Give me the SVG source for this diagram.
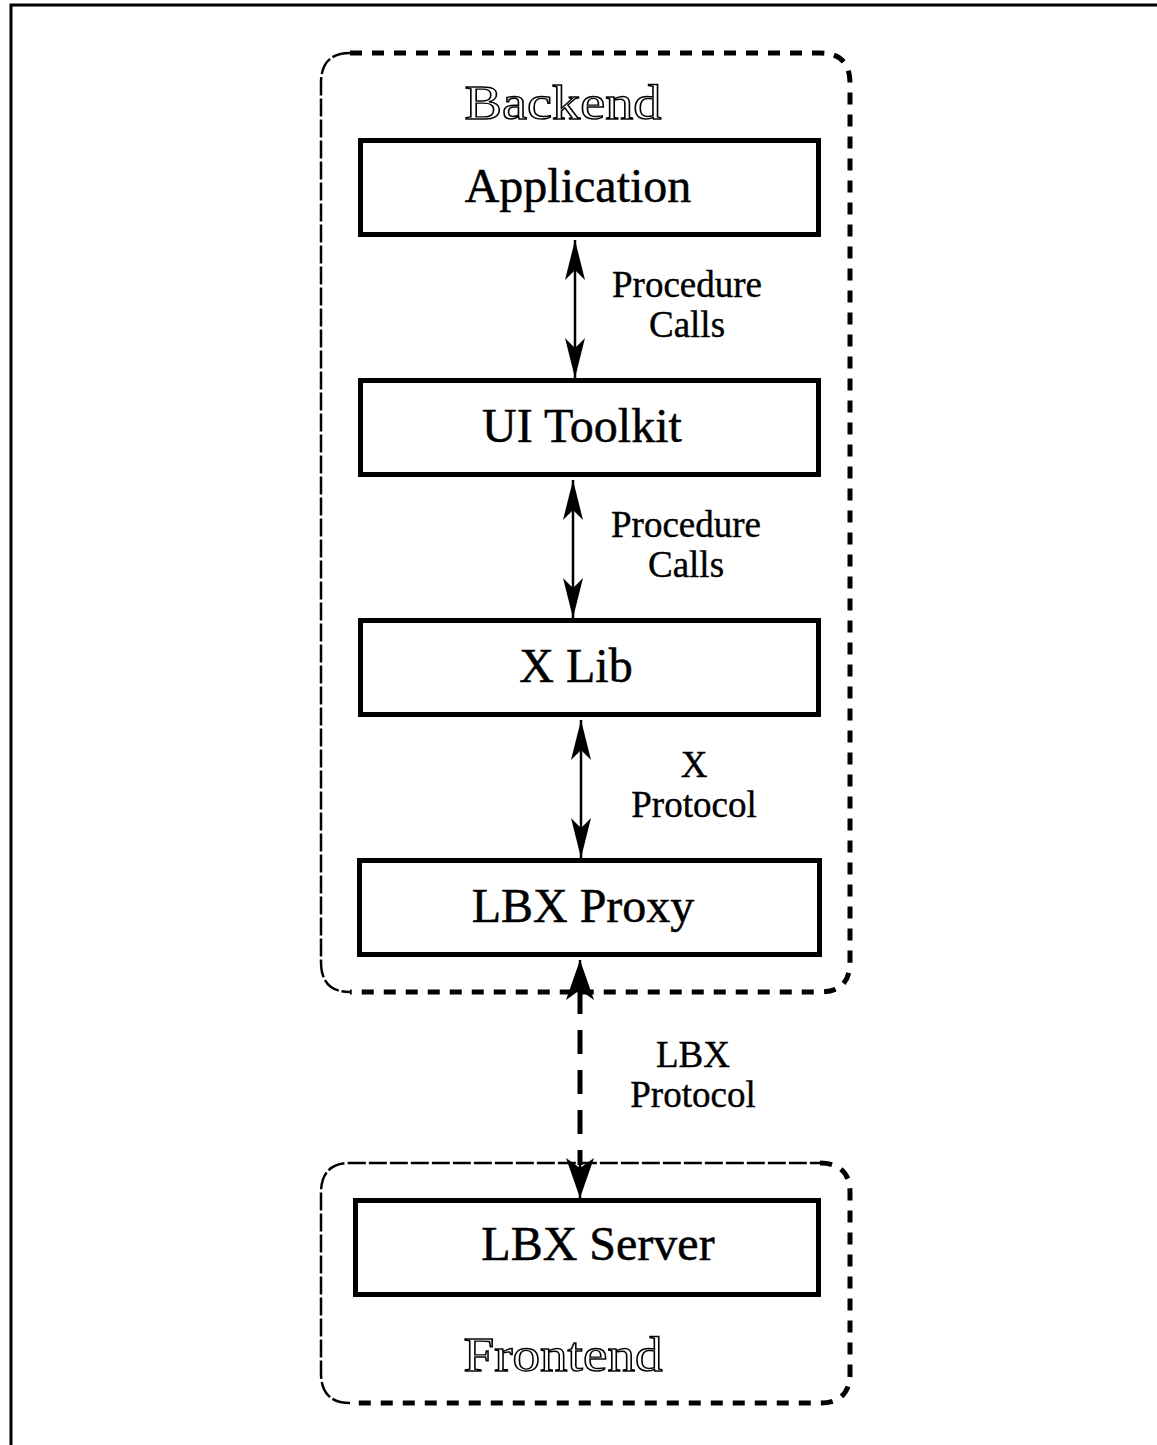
<svg xmlns="http://www.w3.org/2000/svg" width="1157" height="1445" viewBox="0 0 1157 1445">
  <style>
    .box { fill: #fff; stroke: #000; stroke-width: 5; }
    .boxtext { font-family: "Liberation Serif", "Times New Roman", serif; font-size: 48px; fill: #000; stroke: #000; stroke-width: 0.5; text-anchor: middle; }
    .label { font-family: "Liberation Serif", "Times New Roman", serif; font-size: 37px; fill: #000; stroke: #000; stroke-width: 0.4; text-anchor: middle; }
    .outline { font-family: "Liberation Serif", "Times New Roman", serif; font-size: 48px; fill: #fff; stroke: #000; stroke-width: 1.4; text-anchor: middle; }
    .thick-dash { fill: none; stroke: #000; stroke-width: 5; stroke-dasharray: 12 10; }
    .thin-dash { fill: none; stroke: #000; stroke-width: 2.5; stroke-dasharray: 18 3; }
    .link { fill: none; stroke: #000; stroke-width: 2.5; }
    .link-dashed { fill: none; stroke: #000; stroke-width: 5; stroke-dasharray: 24 16; }
  </style>
  <defs>
    <marker id="head" viewBox="0 0 40 20" refX="40" refY="10" markerWidth="40" markerHeight="20" markerUnits="userSpaceOnUse" orient="auto-start-reverse">
      <path d="M40,10 L0,0 L10,10 L0,20 Z" fill="#000"/>
    </marker>
    <marker id="head-big" viewBox="0 0 40 28" refX="40" refY="14" markerWidth="40" markerHeight="28" markerUnits="userSpaceOnUse" orient="auto-start-reverse">
      <path d="M40,14 L0,0 L10,14 L0,28 Z" fill="#000"/>
    </marker>
  </defs>

  <!-- page frame -->
  <path d="M11,1445 V5 H1157" fill="none" stroke="#000" stroke-width="3"/>

  <!-- backend container -->
  <g id="backend">
    <path class="thick-dash" d="M350,53 H820 Q850,53 850,83 V962 Q850,992 820,992 H350"/>
    <path class="thin-dash" d="M350,53 Q321,53 321,83 V962 Q321,992 350,992"/>
    <text class="outline" x="563" y="119" textLength="197" lengthAdjust="spacingAndGlyphs">Backend</text>
  </g>

  <!-- frontend container -->
  <g id="frontend">
    <path class="thin-dash" d="M350,1403 Q321,1403 321,1373 V1193 Q321,1163 350,1163 H820"/>
    <path class="thick-dash" d="M820,1163 Q850,1163 850,1193 V1373 Q850,1403 820,1403 H350"/>
    <text class="outline" x="563" y="1371" textLength="199" lengthAdjust="spacingAndGlyphs">Frontend</text>
  </g>

  <!-- connectors -->
  <g id="connectors">
    <line class="link" x1="575" y1="240" x2="575" y2="378" marker-start="url(#head)" marker-end="url(#head)"/>
    <line class="link" x1="573" y1="480" x2="573" y2="618" marker-start="url(#head)" marker-end="url(#head)"/>
    <line class="link" x1="581" y1="720" x2="581" y2="858" marker-start="url(#head)" marker-end="url(#head)"/>
    <line class="link-dashed" x1="580" y1="990" x2="580" y2="1165"/>
    <line class="link" x1="580" y1="960" x2="580" y2="998" stroke-width="5" marker-start="url(#head-big)"/>
    <line class="link" x1="580" y1="1160" x2="580" y2="1198" stroke-width="5" marker-end="url(#head-big)"/>
    <text class="label" x="687" y="297">Procedure</text>
    <text class="label" x="687" y="337">Calls</text>
    <text class="label" x="686" y="537">Procedure</text>
    <text class="label" x="686" y="577">Calls</text>
    <text class="label" x="694" y="777">X</text>
    <text class="label" x="694" y="817">Protocol</text>
    <text class="label" x="693" y="1067">LBX</text>
    <text class="label" x="693" y="1107">Protocol</text>
  </g>

  <g id="application">
    <rect class="box" x="360.5" y="140.5" width="458" height="94"/>
    <text class="boxtext" x="578" y="202">Application</text>
  </g>
  <g id="ui-toolkit">
    <rect class="box" x="360.5" y="380.5" width="458" height="94"/>
    <text class="boxtext" x="582" y="442">UI Toolkit</text>
  </g>
  <g id="xlib">
    <rect class="box" x="360.5" y="620.5" width="458" height="94"/>
    <text class="boxtext" x="576" y="682">X Lib</text>
  </g>
  <g id="lbx-proxy">
    <rect class="box" x="359.5" y="860.5" width="460" height="94"/>
    <text class="boxtext" x="583" y="922">LBX Proxy</text>
  </g>
  <g id="lbx-server">
    <rect class="box" x="355.5" y="1200.5" width="463" height="94"/>
    <text class="boxtext" x="598" y="1260">LBX Server</text>
  </g>
</svg>
